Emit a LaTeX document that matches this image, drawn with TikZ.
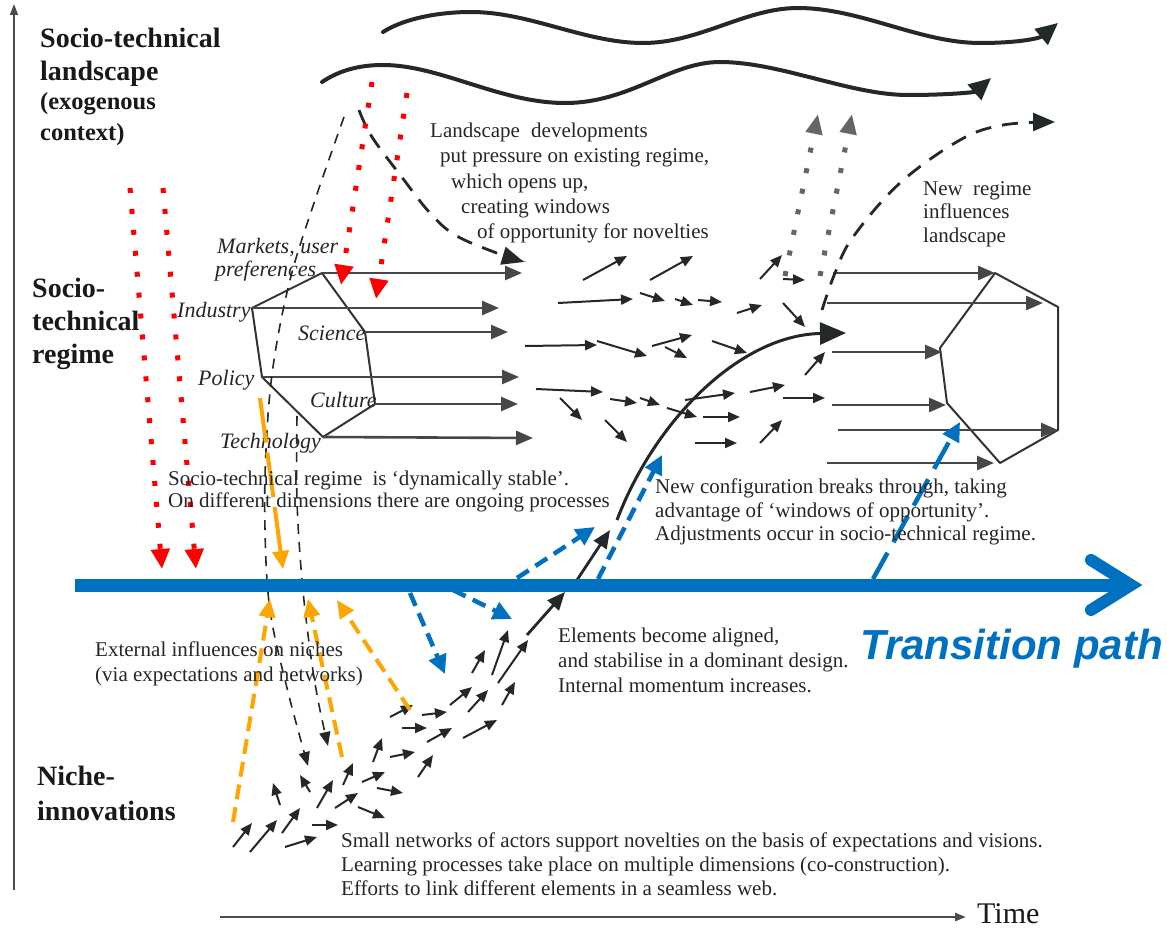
\documentclass[tikz,border=0pt]{standalone}
\usepackage{fontspec}
\setmainfont{Liberation Serif}[BoldFont={Liberation Serif Bold}, ItalicFont={Liberation Serif Italic}, BoldItalicFont={Liberation Serif Bold Italic}]
\newfontfamily\tpsans{Liberation Sans}
\usetikzlibrary{arrows.meta}
\definecolor{tblue}{RGB}{0,112,192}
\definecolor{torange}{RGB}{255,165,0}
\definecolor{tred}{RGB}{255,0,0}
\definecolor{tgray}{RGB}{105,100,95}
\definecolor{tdark}{RGB}{35,40,40}
\tikzset{
  blab/.style={font=\bfseries\fontsize{28}{30}\selectfont, anchor=base west, inner sep=0pt, text=black!90},
  blabs/.style={font=\bfseries\fontsize{24.5}{26}\selectfont, anchor=base west, inner sep=0pt, text=black!90},
  ilab/.style={font=\itshape\fontsize{22}{24}\selectfont, anchor=base west, inner sep=0pt, text=black!85},
  body/.style={font=\fontsize{21}{24}\selectfont, anchor=base west, inner sep=0pt, text=black!85},
  hexline/.style={draw=black!80, line width=2pt, line join=round},
  harr/.style={draw=black!72, line width=2.6pt, -{Triangle[length=17pt,width=14pt]}},
  sarr/.style={draw=tdark, line width=2pt, -{Triangle[length=12pt,width=10pt]}},
  barr/.style={draw=tdark, line width=2.8pt, -{Triangle[length=18pt,width=15pt]}},
  waveline/.style={draw=tdark, line width=4pt, line cap=round, -{Triangle[length=22pt,width=20pt]}},
  reddot/.style={draw=tred, line width=5pt, dash pattern=on 5pt off 16pt, -{Triangle[length=20pt,width=18pt]}},
  graydot/.style={draw=tgray, line width=5pt, dash pattern=on 5pt off 16pt, -{Triangle[length=20pt,width=16pt]}},
  thindash/.style={draw=tdark, line width=1.6pt, dash pattern=on 10pt off 8pt, -{Triangle[length=14pt,width=11pt]}},
  thickdash/.style={draw=tdark, line width=2.8pt, dash pattern=on 16pt off 11pt, -{Triangle[length=22pt,width=18pt]}},
  bluedash/.style={draw=tblue, line width=4.5pt, dash pattern=on 14pt off 8pt, -{Triangle[length=19pt,width=18pt]}},
  orangedash/.style={draw=torange, line width=4pt, dash pattern=on 15pt off 8pt, -{Triangle[length=18pt,width=16pt]}},
  axisline/.style={draw=black!70, line width=1.6pt, -{Triangle[length=11pt,width=8pt]}},
}
\begin{document}
\begin{tikzpicture}[x=1pt,y=-1pt]
\fill[white] (0,0) rectangle (1167,931);
\useasboundingbox (0,0) rectangle (1167,931);

% axes
\coordinate (ax0) at (14,890); \coordinate (ax1) at (14,4);
\draw[axisline] (ax0) -- (ax1);
\coordinate (tx0) at (220,917); \coordinate (tx1) at (966,917);
\draw[axisline, line width=2.4pt] (tx0) -- (tx1);
\node[font=\fontsize{30}{32}\selectfont, anchor=base west, inner sep=0pt, text=black!90] (time) at (977,923) {Time};

% level labels
\node[blab] (lsA) at (40,48) {Socio-technical};
\node[blab] (lsB) at (40,81) {landscape};
\node[blabs] (lsC) at (40,110) {(exogenous};
\node[blabs] (lsD) at (40,140) {context)};
\node[blab] (rgA) at (32,297) {Socio-};
\node[blab] (rgB) at (32,330) {technical};
\node[blab] (rgC) at (32,363) {regime};
\node[blab] (niA) at (37,785) {Niche-};
\node[blab] (niB) at (37,820) {innovations};

% landscape waves
\draw[waveline] (383,32) .. controls (405,18) and (440,12) .. (471,12)
  .. controls (530,12) and (585,43) .. (643,43)
  .. controls (700,43) and (745,8) .. (798,8)
  .. controls (860,8) and (920,43) .. (980,43)
  .. controls (1020,43) and (1040,38) .. (1058,23);
\draw[waveline] (322,82) .. controls (340,70) and (360,65) .. (383,65)
  .. controls (440,65) and (500,103) .. (565,103)
  .. controls (630,103) and (670,62) .. (720,62)
  .. controls (780,62) and (850,95) .. (908,95)
  .. controls (950,95) and (975,92) .. (991,78);

% left regime hexagon
\coordinate (HT) at (322,273);
\coordinate (HI) at (252,308);
\coordinate (HS) at (365,332);
\coordinate (HP) at (262,377);
\coordinate (HC) at (375,404);
\coordinate (HB) at (323,437);
\draw[hexline] (HT) -- (HS) -- (HC) -- (HB) -- (HP) -- (HI) -- cycle;
\coordinate (HTe) at (522,273);
\coordinate (HIe) at (499,308);
\coordinate (HSe) at (508,332);
\coordinate (HPe) at (519,377);
\coordinate (HCe) at (518,404);
\coordinate (HBe) at (533,438);
\draw[harr] (HT) -- (HTe);
\draw[harr] (HI) -- (HIe);
\draw[harr] (HS) -- (HSe);
\draw[harr] (HP) -- (HPe);
\draw[harr] (HC) -- (HCe);
\draw[harr] (HB) -- (HBe);

\node[ilab] (lmk) at (217,253) {Markets, user};
\node[ilab] (lpf) at (215,276) {preferences};
\node[ilab] (lin) at (177,317) {Industry};
\node[ilab] (lsc) at (298,340) {Science};
\node[ilab] (lpo) at (198,385) {Policy};
\node[ilab] (lcu) at (310,407) {Culture};
\node[ilab] (lte) at (220,448) {Technology};

% right regime hexagon
\coordinate (RT) at (995,273);
\coordinate (RUR) at (1058,307);
\coordinate (RLR) at (1058,430);
\coordinate (RB) at (1000,463);
\coordinate (RLL) at (947,403);
\coordinate (RUL) at (940,348);
\draw[hexline] (RT) -- (RUR) -- (RLR) -- (RB) -- (RLL) -- (RUL) -- cycle;
\coordinate (Rs1) at (833,273); \draw[harr] (Rs1) -- (RT);
\coordinate (Rs2) at (827,303); \coordinate (Re2) at (1043,303); \draw[harr] (Rs2) -- (Re2);
\coordinate (Rs3) at (832,352); \coordinate (Re3) at (942,352); \draw[harr] (Rs3) -- (Re3);
\coordinate (Rs4) at (832,405); \coordinate (Re4) at (946,405); \draw[harr] (Rs4) -- (Re4);
\coordinate (Rs5) at (838,430); \draw[harr] (Rs5) -- (RLR);
\coordinate (Rs6) at (827,463); \coordinate (Re6) at (994,463); \draw[harr] (Rs6) -- (Re6);

% small regime arrows
\foreach \ax/\ay/\bx/\by in {583/280/627/256, 650/280/693/256, 558/303/633/299, 640/293/665/301,
  675/299/693/305, 698/300/722/302, 737/313/762/305, 760/279/782/255, 783/279/805/280,
  783/303/805/327, 525/346/597/345, 597/341/647/356, 652/346/692/335, 665/347/687/358,
  712/341/747/353, 536/389/603/392, 560/398/582/420, 610/399/637/403, 640/398/660/405,
  667/408/697/417, 685/400/735/393, 605/420/627/442, 703/417/740/417, 695/443/737/443,
  750/392/785/385, 760/443/782/420, 783/398/825/398, 805/375/825/352}
  \draw[sarr] (\ax,\ay) -- (\bx,\by);

% small niche arrows
\foreach \ax/\ay/\bx/\by in {233/847/252/823, 250/852/277/820, 282/833/300/808, 285/847/317/837,
  312/825/338/825, 280/805/273/783, 310/792/300/775, 317/808/333/780, 335/808/358/793,
  358/807/385/818, 343/785/353/763, 362/782/385/772, 377/788/403/793, 373/762/382/738,
  390/757/415/752, 418/777/433/755, 427/742/452/728, 463/738/497/720, 402/728/427/728,
  422/715/447/712, 390/717/413/705, 450/705/472/687, 468/712/488/690, 502/705/515/682,
  472/673/485/650, 492/675/508/630, 498/683/528/640}
  \draw[sarr] (\ax,\ay) -- (\bx,\by);

% trajectory of the new configuration
\coordinate (tr0) at (527,635); \coordinate (tr1) at (565,592);
\coordinate (tr2) at (577,580); \coordinate (tr3) at (610,530);
\coordinate (tr4) at (617,520); \coordinate (tr5) at (846,333);
\draw[barr] (tr0) -- (tr1);
\draw[barr] (tr2) -- (tr3);
\draw[draw=tdark, line width=3pt, -{Triangle[length=26pt,width=22pt]}] (tr4) .. controls (655,420) and (740,335) .. (tr5);

% black dashed influences
\draw[thindash] plot[smooth, tension=0.6] coordinates {(344,117) (315,200) (290,280) (273,367) (266,450) (265,530) (270,610) (287,688) (308,766)};
\draw[thindash] plot[smooth, tension=0.6] coordinates {(297,416) (297,500) (302,580) (310,650) (318,700) (328,746)};
\draw[thickdash] plot[smooth, tension=0.6] coordinates {(359,110) (372,137) (404,180) (430,213) (455,235) (494,252) (524,262)};
\draw[thickdash] plot[smooth, tension=0.6] coordinates {(822,310) (835,273) (853,237) (900,183) (960,140) (1003,125) (1055,122)};

% red dotted landscape pressure
\coordinate (rd1a) at (130,188); \coordinate (rd1b) at (162,569);
\coordinate (rd2a) at (163,188); \coordinate (rd2b) at (196,569);
\coordinate (rd3a) at (372,82); \coordinate (rd3b) at (341,285);
\coordinate (rd4a) at (407,93); \coordinate (rd4b) at (376,299);
\draw[reddot] (rd1a) -- (rd1b);
\draw[reddot] (rd2a) -- (rd2b);
\draw[reddot] (rd3a) -- (rd3b);
\draw[reddot] (rd4a) -- (rd4b);

% gray dotted to landscape
\coordinate (gd1a) at (785,276); \coordinate (gd1b) at (818,114);
\coordinate (gd2a) at (820,276); \coordinate (gd2b) at (852,114);
\draw[graydot] (gd1a) -- (gd1b);
\draw[graydot] (gd2a) -- (gd2b);

% orange dashed
\coordinate (or1a) at (260,398); \coordinate (or1b) at (283,569);
\coordinate (or2a) at (233,822); \coordinate (or2b) at (270,599);
\coordinate (or3a) at (342,757); \coordinate (or3b) at (308,599);
\coordinate (or4a) at (410,710); \coordinate (or4b) at (337,600);
\draw[orangedash, dash pattern=on 45pt off 10pt] (or1a) -- (or1b);
\draw[orangedash] (or2a) -- (or2b);
\draw[orangedash] (or3a) -- (or3b);
\draw[orangedash] (or4a) -- (or4b);

% transition path
\coordinate (tp0) at (75,585); \coordinate (tp1) at (1128,585);
\draw[tblue, line width=13pt] (tp0) -- (tp1);
\coordinate (tpa) at (1091,560); \coordinate (tpt) at (1131,585); \coordinate (tpb) at (1091,610);
\draw[tblue, line width=12pt, line cap=round, line join=miter] (tpa) -- (tpt) -- (tpb);
\node[font=\tpsans\bfseries\itshape\fontsize{42}{44}\selectfont, text=tblue, anchor=base west, inner sep=0pt] (tpl) at (860,659) {Transition path};

% blue dashed
\coordinate (bl1a) at (410,593); \coordinate (bl1b) at (445,674);
\coordinate (bl2a) at (453,590); \coordinate (bl2b) at (512,619);
\coordinate (bl3a) at (517,578); \coordinate (bl3b) at (595,527);
\coordinate (bl4a) at (598,579); \coordinate (bl4b) at (662,455);
\coordinate (bl5a) at (873,579); \coordinate (bl5b) at (960,422);
\draw[bluedash] (bl1a) -- (bl1b);
\draw[bluedash] (bl2a) -- (bl2b);
\draw[bluedash] (bl3a) -- (bl3b);
\draw[bluedash] (bl4a) -- (bl4b);
\draw[bluedash, dash pattern=on 30pt off 12pt] (bl5a) -- (bl5b);

% texts
\node[body] (ld1) at (430,138) {Landscape\hspace{6pt} developments};
\node[body] (ld2) at (440,163) {put pressure on existing regime,};
\node[body] (ld3) at (451,188) {which opens up,};
\node[body] (ld4) at (461,213) {creating windows};
\node[body] (ld5) at (477,238) {of opportunity for novelties};

\node[body] (sr1) at (168,485) {Socio-technical regime\hspace{5pt} is ‘dynamically stable’.};
\node[body] (sr2) at (168,507) {On different dimensions there are ongoing processes};

\node[body] (nr1) at (923,195) {New\hspace{5pt} regime};
\node[body] (nr2) at (923,218) {influences};
\node[body] (nr3) at (923,242) {landscape};

\node[body] (nc1) at (655,493) {New configuration breaks through, taking};
\node[body] (nc2) at (655,517) {advantage of ‘windows of opportunity’.};
\node[body] (nc3) at (655,540) {Adjustments occur in socio-technical regime.};

\node[body] (ex1) at (95,656) {External influences on niches};
\node[body] (ex2) at (95,681) {(via expectations and networks)};

\node[body] (el1) at (558,642) {Elements become aligned,};
\node[body] (el2) at (558,667) {and stabilise in a dominant design.};
\node[body] (el3) at (558,692) {Internal momentum increases.};

\node[body] (sn1) at (341,847) {Small networks of actors support novelties on the basis of expectations and visions.};
\node[body] (sn2) at (341,871) {Learning processes take place on multiple dimensions (co-construction).};
\node[body] (sn3) at (341,895) {Efforts to link different elements in a seamless web.};
\end{tikzpicture}
\end{document}
